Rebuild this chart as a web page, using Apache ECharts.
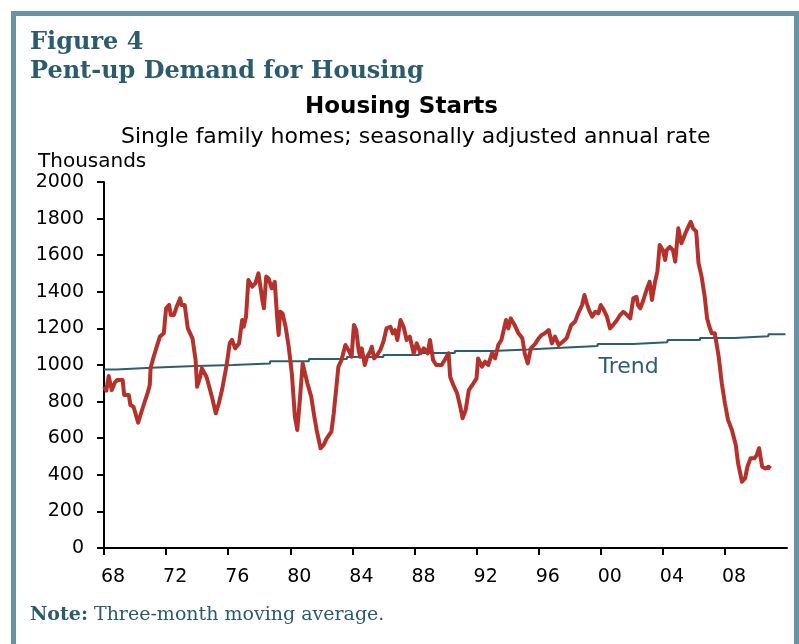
<!DOCTYPE html>
<html>
<head>
<meta charset="utf-8">
<script src="https://cdn.jsdelivr.net/npm/echarts@6/dist/echarts.min.js"></script>
<style>
  html, body { margin: 0; padding: 0; background: #fff; }
  #chart { width: 799px; height: 644px; }
</style>
</head>
<body>
<div id="chart"></div>
<script>
// housing starts, single family, 3-month moving average (thousands, SAAR)
const startYears = [
  1968.0, 1968.15, 1968.3, 1968.5, 1968.7, 1968.85, 1969.2, 1969.3, 1969.6, 1969.7,
  1969.9, 1970.2, 1970.45, 1970.8, 1970.95, 1971.0, 1971.2, 1971.4, 1971.6, 1971.85,
  1972.0, 1972.2, 1972.3, 1972.5, 1972.65, 1972.9, 1973.0, 1973.2, 1973.4, 1973.7,
  1973.9, 1974.0, 1974.2, 1974.3, 1974.6, 1974.75, 1974.95, 1975.2, 1975.4, 1975.6,
  1975.9, 1976.1, 1976.25, 1976.45, 1976.7, 1976.9, 1977.0, 1977.15, 1977.3, 1977.55,
  1977.75, 1977.95, 1978.2, 1978.3, 1978.45, 1978.6, 1978.8, 1979.0, 1979.15, 1979.25,
  1979.35, 1979.5, 1979.7, 1979.9, 1980.1, 1980.3, 1980.45, 1980.6, 1980.8, 1981.1,
  1981.35, 1981.55, 1981.7, 1981.95, 1982.15, 1982.35, 1982.65, 1982.8, 1982.95, 1983.1,
  1983.3, 1983.55, 1983.75, 1983.95, 1984.1, 1984.25, 1984.4, 1984.5, 1984.6, 1984.8,
  1984.95, 1985.15, 1985.25, 1985.4, 1985.6, 1985.8, 1986.0, 1986.2, 1986.45, 1986.6,
  1986.75, 1986.9, 1987.1, 1987.3, 1987.5, 1987.7, 1987.95, 1988.15, 1988.4, 1988.6,
  1988.85, 1989.0, 1989.2, 1989.4, 1989.75, 1989.95, 1990.2, 1990.3, 1990.5, 1990.75,
  1990.95, 1991.1, 1991.3, 1991.5, 1991.8, 1992.0, 1992.1, 1992.35, 1992.55, 1992.75,
  1993.0, 1993.2, 1993.4, 1993.6, 1993.9, 1994.05, 1994.2, 1994.45, 1994.7, 1994.95,
  1995.1, 1995.3, 1995.5, 1995.8, 1996.0, 1996.2, 1996.4, 1996.65, 1996.85, 1997.05,
  1997.3, 1997.55, 1997.8, 1998.1, 1998.35, 1998.55, 1998.8, 1998.95, 1999.1, 1999.25,
  1999.45, 1999.65, 1999.85, 2000.0, 2000.2, 2000.4, 2000.6, 2000.8, 2001.05, 2001.25,
  2001.45, 2001.7, 2001.9, 2002.1, 2002.3, 2002.4, 2002.55, 2002.75, 2002.95, 2003.15,
  2003.3, 2003.5, 2003.65, 2003.8, 2004.0, 2004.15, 2004.25, 2004.45, 2004.65, 2004.8,
  2005.0, 2005.2, 2005.45, 2005.65, 2005.8, 2005.95, 2006.15, 2006.3, 2006.5, 2006.7,
  2006.85, 2007.0, 2007.15, 2007.35, 2007.6, 2007.8, 2008.0, 2008.2, 2008.45, 2008.7,
  2008.85, 2009.1, 2009.3, 2009.45, 2009.65, 2009.9, 2010.05, 2010.2, 2010.4, 2010.6,
  2010.8, 2010.95
]
const startValues = [
  880, 860, 940, 863, 905, 918, 918, 836, 836, 781,
  772, 685, 754, 845, 891, 982, 1045, 1100, 1155, 1173,
  1310, 1328, 1273, 1273, 1311, 1364, 1328, 1328, 1200, 1146,
  1027, 881, 936, 982, 936, 891, 827, 736, 791, 863,
  1000, 1119, 1137, 1091, 1118, 1246, 1209, 1264, 1464, 1428,
  1446, 1501, 1355, 1310, 1483, 1474, 1419, 1455, 1264, 1164,
  1291, 1282, 1209, 1100, 955, 717, 645, 791, 1009, 900,
  827, 717, 645, 545, 563, 599, 636, 736, 863, 991,
  1027, 1109, 1082, 1045, 1219, 1191, 1082, 1045, 1091, 1000,
  1045, 1073, 1100, 1036, 1055, 1082, 1127, 1200, 1209, 1173,
  1191, 1137, 1246, 1209, 1137, 1155, 1064, 1118, 1064, 1091,
  1064, 1137, 1027, 1000, 1000, 1027, 1064, 936, 891, 845,
  772, 709, 754, 863, 900, 927, 1036, 991, 1018, 1000,
  1064, 1036, 1109, 1137, 1246, 1200, 1255, 1219, 1173, 1146,
  1064, 1009, 1091, 1118, 1146, 1164, 1173, 1191, 1118, 1155,
  1109, 1127, 1146, 1219, 1237, 1282, 1328, 1383, 1337, 1300,
  1264, 1291, 1282, 1328, 1300, 1264, 1200, 1219, 1246, 1273,
  1291, 1273, 1255, 1364, 1373, 1328, 1310, 1355, 1410, 1455,
  1355, 1455, 1510, 1656, 1628, 1574, 1628, 1646, 1628, 1565,
  1747, 1665, 1719, 1756, 1783, 1747, 1730, 1556, 1483, 1373,
  1255, 1209, 1173, 1173, 1045, 900, 791, 700, 645, 563,
  463, 362, 381, 444, 490, 490, 508, 545, 444, 435,
  444, 435
]

// stepped trend
const trendYears = [
  1968.0, 1968.8, 1971.4, 1973.9, 1976.3, 1978.7, 1981.2, 1983.65, 1986.0, 1988.3,
  1990.6, 1993.0, 1995.3, 1997.5, 1999.8, 2002.1, 2004.3, 2006.4, 2008.6, 2010.8, 2011.9
]
const trendValues = [
  976, 986, 994, 1000, 1008, 1020, 1033, 1044, 1055, 1066,
  1077, 1085, 1094, 1104, 1115, 1124, 1137, 1148, 1157, 1168, 1168
]

const yearTicks = ['68', '72', '76', '80', '84', '88', '92', '96', '00', '04', '08']

const navy = '#2b5b6d'
const red = '#b5312b'
const frame = '#6b91a9'
const sans = 'DejaVu Sans'

const startsData = startYears.map((y, i) => [y, startValues[i]])
const trendData = trendYears.map((y, i) => [y, trendValues[i]])

const chart = echarts.init(document.getElementById('chart'))

chart.setOption({
  animation: false,
  backgroundColor: '#fff',
  graphic: [
    {
      type: 'rect',
      shape: { x: 13.5, y: 13.5, width: 783, height: 700 },
      style: { fill: 'none', stroke: frame, lineWidth: 5 }
    }
  ],
  title: [
    {
      text: 'Figure 4\nPent-up Demand for Housing',
      left: 25,
      top: 23,
      textStyle: {
        fontFamily: 'DejaVu Serif',
        fontWeight: 'bold',
        fontSize: 24,
        lineHeight: 29,
        color: navy
      }
    },
    {
      text: 'Housing Starts',
      left: 300,
      top: 91,
      textStyle: { fontFamily: sans, fontWeight: 'bold', fontSize: 23, color: '#000' }
    },
    {
      text: 'Single family homes; seasonally adjusted annual rate',
      left: 116,
      top: 121,
      textStyle: { fontFamily: sans, fontWeight: 'normal', fontSize: 22, color: '#000' }
    },
    {
      text: 'Thousands',
      left: 33,
      top: 147,
      textStyle: { fontFamily: sans, fontWeight: 'normal', fontSize: 20, color: '#000' }
    },
    {
      text: '{b|Note:} Three-month moving average.',
      left: 25,
      top: 601,
      textStyle: {
        fontFamily: 'DejaVu Serif',
        fontWeight: 'normal',
        fontSize: 19,
        color: navy,
        rich: {
          b: { fontFamily: 'DejaVu Serif', fontWeight: 'bold', fontSize: 19, color: navy }
        }
      }
    }
  ],
  grid: { left: 104, right: 12, top: 182, bottom: 96 },
  xAxis: {
    type: 'value',
    min: 1968,
    max: 2012,
    interval: 4,
    axisLine: { lineStyle: { color: '#000', width: 2 } },
    axisTick: { length: 7, lineStyle: { color: '#000', width: 2 } },
    splitLine: { show: false },
    axisLabel: {
      margin: 20,
      align: 'left',
      padding: [0, 0, 0, -3],
      showMaxLabel: false,
      fontFamily: sans,
      fontSize: 19,
      color: '#000',
      formatter: (v) => yearTicks[Math.round((v - 1968) / 4)] ?? ''
    }
  },
  yAxis: {
    type: 'value',
    min: 0,
    max: 2000,
    interval: 200,
    axisLine: { show: true, lineStyle: { color: '#000', width: 2 } },
    axisTick: { show: true, length: 7, lineStyle: { color: '#000', width: 2 } },
    splitLine: { show: false },
    axisLabel: {
      margin: 20,
      fontFamily: sans,
      fontSize: 19,
      color: '#000',
      formatter: (v) => String(v)
    }
  },
  series: [
    {
      name: 'Trend',
      type: 'line',
      data: trendData,
      step: 'end',
      showSymbol: false,
      lineStyle: { color: '#2e5d70', width: 2 },
      markPoint: {
        symbol: 'circle',
        symbolSize: 0,
        data: [{ coord: [2001.8, 989] }],
        label: {
          show: true,
          position: 'inside',
          formatter: 'Trend',
          fontFamily: sans,
          fontSize: 22,
          color: '#2e5d70'
        }
      }
    },
    {
      name: 'Housing starts',
      type: 'line',
      data: startsData,
      showSymbol: false,
      lineStyle: { color: red, width: 4, join: 'round' }
    }
  ]
})
</script>
</body>
</html>
